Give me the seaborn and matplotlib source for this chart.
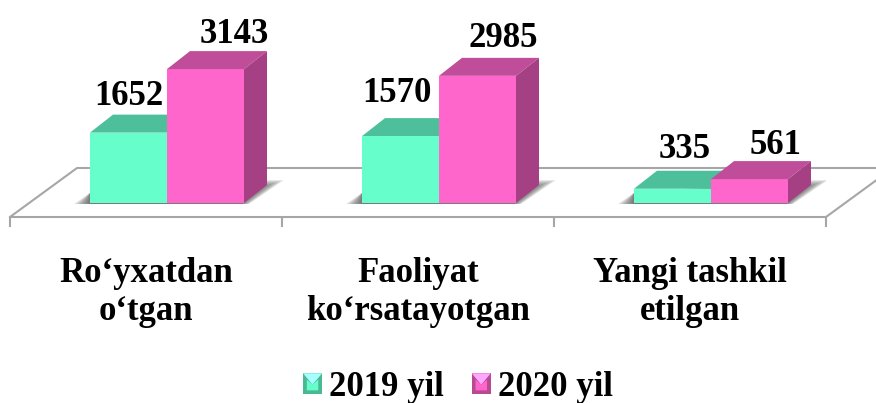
import numpy as np
import pandas as pd
import seaborn as sns
import matplotlib.pyplot as plt
from matplotlib.legend_handler import HandlerBase
from matplotlib.patches import Polygon, Rectangle

categories = ["Ro\u2018yxatdan\no\u2018tgan", "Faoliyat\nko\u2018rsatayotgan", "Yangi tashkil\netilgan"]
years = ["2019 yil", "2020 yil"]
values_2019 = [1652, 1570, 335]
values_2020 = [3143, 2985, 561]

front = {"2019 yil": "#66FFCC", "2020 yil": "#FF66CC"}
top = {"2019 yil": "#4DBF9A", "2020 yil": "#BF4D9A"}
side = {"2019 yil": "#42A683", "2020 yil": "#A64085"}
grid = "#A6A6A6"

# label nudges in pixels from the bar's top centre
label_off = {"2019 yil": [(0, 28), (-4, 34), (12, 31)],
             "2020 yil": [(29, 26), (26, 29), (26, 25)]}

W, H = 876, 403
sx = 1 / 272      # data per pixel, x
sy = 1 / 0.0426   # data per pixel, y
shift = 21 * sx   # bars sit right of the category centre because of the 3d depth
depth_x, depth_y = 23 * sx, 18 * sy

df = pd.DataFrame({
    "cat": categories * 2,
    "year": [years[0]] * 3 + [years[1]] * 3,
    "val": values_2019 + values_2020,
})

sns.set_theme(style="white")
plt.rcParams["font.family"] = ["Liberation Serif"]
plt.rcParams["font.weight"] = "bold"

fig = plt.figure(figsize=(W / 100, H / 100), dpi=100)
ax = fig.add_axes([10 / W, (H - 217) / H, 816 / W, 217 / H])
sns.barplot(data=df, x="cat", y="val", hue="year", palette=front, saturation=1,
            width=154 / 272, gap=0, legend=False, ax=ax, zorder=5)

ax.set_xlim(-0.5 - shift, 2.5 - shift)
ax.set_ylim(-14 * sy, 203 * sy)
ax.set_xlabel("")
ax.set_ylabel("")
ax.set_yticks([])
ax.set_xticks(np.arange(4) - 0.5 - shift)
ax.set_xticks(np.arange(3) - shift, minor=True)
ax.set_xticklabels([])
ax.set_xticklabels(categories, minor=True, fontsize=25, fontweight="bold", linespacing=1.2)
ax.tick_params(axis="x", which="major", length=7.2, width=1.5, color=grid, bottom=True)
ax.tick_params(axis="x", which="minor", length=0, pad=28.5, labelcolor="black")
sns.despine(ax=ax, left=True)
ax.spines["bottom"].set_color(grid)
ax.spines["bottom"].set_linewidth(1.5)

# floor of the 3d box
x0, x1 = ax.get_xlim()
y0 = ax.get_ylim()[0]
fx, fy = 67 * sx, 49 * sy
ax.plot([x0, x0 + fx, x1 + fx, x1], [y0, y0 + fy, y0 + fy, y0], color=grid, lw=1.5,
        clip_on=False, zorder=1)

# shadows, top and side faces of each bar
for c, year in zip(ax.containers, years):
    for i, bar in enumerate(c):
        l, w, h = bar.get_x(), bar.get_width(), bar.get_height()
        r = l + w
        bar.set_linewidth(0)
        if year == years[0]:
            zt = 3
        else:
            zt = 6
        ax.add_patch(Polygon([(l, h), (l + depth_x, h + depth_y), (r + depth_x, h + depth_y), (r, h)],
                             fc=top[year], ec="none", zorder=zt))
        ax.add_patch(Polygon([(r, 0), (r + depth_x, depth_y), (r + depth_x, h + depth_y), (r, h)],
                             fc=side[year], ec="none", zorder=zt))
        if year == years[1]:
            for k in range(8):
                ax.add_patch(Polygon([(l - w - (16 - 2 * k) * sx, -1 * sy),
                                      (r + (5 - k) * sx, -1 * sy),
                                      (r + (40 - 3 * k) * sx, (23 - k) * sy),
                                      (r, (23 - k) * sy),
                                      (l - w, 10 * sy)],
                                     fc="#404040", ec="none", alpha=0.13, zorder=2))
        ox, oy = label_off[year][i]
        ax.annotate(str(int(h)), xy=(l + w / 2, h), xytext=(ox, oy), textcoords="offset pixels",
                    ha="center", va="baseline", fontsize=25, fontweight="bold", color="black",
                    annotation_clip=False, zorder=8)


class BevelHandler(HandlerBase):
    def create_artists(self, legend, orig, xd, yd, width, height, fontsize, trans):
        fc = orig.get_facecolor()
        r, g, b = fc[:3]
        bx, by = -xd, -yd
        b_w = width * 0.2
        outer = [(bx, by), (bx + width, by), (bx + width, by + height), (bx, by + height)]
        base = Polygon(outer, fc=(r * .72, g * .72, b * .72), ec="none", transform=trans)
        light = Polygon([outer[3], outer[2], (bx + width / 2, by + height * .45)],
                        fc=(min(1, r + .25), min(1, g + .25), min(1, b + .25)), ec="none", transform=trans)
        mid = Polygon([(bx + b_w, by + b_w), (bx + width - b_w, by + b_w),
                       (bx + width - b_w, by + height * .7), (bx + width / 2, by + height * .45),
                       (bx + b_w, by + height * .7)], fc=fc, ec="none", transform=trans)
        return [base, light, mid]


handles = [Rectangle((0, 0), 1, 1, fc=front[y]) for y in years]
fig.legend(handles, years, handler_map={Rectangle: BevelHandler()}, ncol=2, frameon=False,
           loc="lower left", bbox_to_anchor=(303 / W, -1 / H), fontsize=25, handlelength=0.55,
           handleheight=0.55, handletextpad=0.2, columnspacing=0.8, borderpad=0, borderaxespad=0,
           labelcolor="black")

fig.savefig("out.png", dpi=100)
